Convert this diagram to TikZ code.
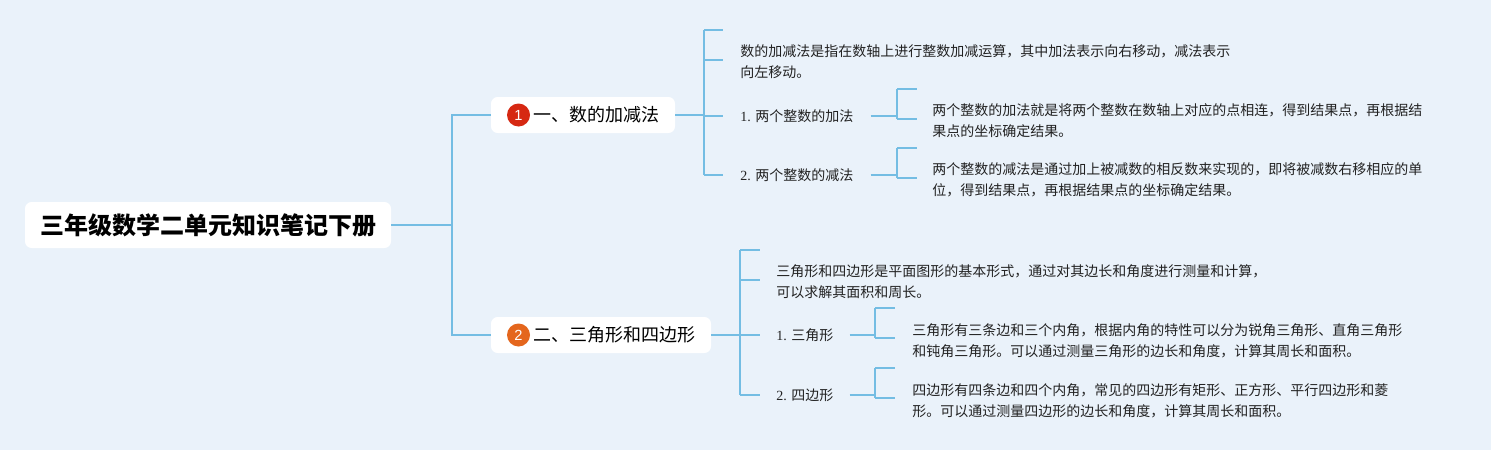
\documentclass[tikz,border=0pt]{standalone}
\usepackage{fontspec}
\setmainfont{Noto Sans CJK SC}
\newfontfamily\numfont{Liberation Serif}
\newfontfamily\circfont{Liberation Sans}
\definecolor{bg}{HTML}{EAF2FA}
\definecolor{ln}{HTML}{74BDE3}
\definecolor{redone}{HTML}{D62812}
\definecolor{orgtwo}{HTML}{E4661D}
\definecolor{txt}{HTML}{222222}
\begin{document}
\begin{tikzpicture}[x=0.75pt,y=-0.75pt,
  conn/.style={draw=ln, line width=1.5pt},
  whitebox/.style={fill=white, rounded corners=5pt, inner sep=0},
  small/.style={font=\fontsize{10.5pt}{15.75pt}\selectfont, text=txt, inner sep=0, anchor=west, align=left},
  child/.style={small, inner xsep=12.75pt},
  childb/.style={small, inner xsep=12pt},
  numc/.style={circle, fill=#1, text=white, minimum size=17.25pt, inner sep=0, font=\circfont\fontsize{11pt}{11pt}\selectfont},
  btext/.style={anchor=west, inner sep=0, text=black, font=\fontsize{13.5pt}{13.5pt}\selectfont}]
\fill[bg] (0,0) rectangle (1491,450);
\useasboundingbox (0,0) rectangle (1491,450);

% root
\node[whitebox, minimum width=274.5pt, minimum height=34.5pt, text=black,
      font=\bfseries\fontsize{18pt}{18pt}\selectfont] (root) at (208,225) {三年级数学二单元知识笔记下册};

% branch boxes
\node[whitebox, minimum width=138pt, minimum height=27pt] (b1) at (583,115) {};
\node[numc=redone] (n1) at (518.5,115) {1};
\node[btext] (t1) at (533,115) {一、数的加减法};
\node[whitebox, minimum width=165pt, minimum height=27pt] (b2) at (601,335) {};
\node[numc=orgtwo] (n2) at (518.5,335) {2};
\node[btext] (t2) at (533,335) {二、三角形和四边形};

% root connectors
\coordinate (jx) at (452,225);
\draw[conn] (root.east) -- (jx);
\draw[conn] (b1.west) -| (jx) |- (b2.west);

% ---------- branch 1 ----------
\coordinate (v1) at (704,115);
\coordinate (v1t) at (704,30);
\coordinate (v1b) at (704,175);
\coordinate (s1a) at (723,30);
\coordinate (s1b) at (723,60);
\node[small] (d1) at (740,62) {数的加减法是指在数轴上进行整数加减运算，其中加法表示向右移动，减法表示\\向左移动。};
\node[child] (c11) at (723,116) {{\numfont 1. }两个整数的加法};
\node[child] (c12) at (723,175) {{\numfont 2. }两个整数的减法};
\draw[conn] (b1.east) -- (v1);
\draw[conn] (v1t) -- (v1b);
\draw[conn] (v1t) -- (s1a);
\draw[conn] (s1b -| v1) -- (s1b);
\draw[conn] (c11.west -| v1) -- (c11.west);
\draw[conn] (c12.west -| v1) -- (c12.west);

% leaf 1.1
\coordinate (k11t) at (897,89);
\coordinate (k11b) at (897,119);
\coordinate (e11t) at (917,89);
\coordinate (e11b) at (917,119);
\node[small] (l11) at (932,121) {两个整数的加法就是将两个整数在数轴上对应的点相连，得到结果点，再根据结\\果点的坐标确定结果。};
\draw[conn] (c11.east) -- (c11.east -| k11t);
\draw[conn] (k11t) -- (k11b);
\draw[conn] (k11t) -- (e11t);
\draw[conn] (k11b) -- (e11b);

% leaf 1.2
\coordinate (k12t) at (897,148);
\coordinate (k12b) at (897,178);
\coordinate (e12t) at (917,148);
\coordinate (e12b) at (917,178);
\node[small] (l12) at (932,180) {两个整数的减法是通过加上被减数的相反数来实现的，即将被减数右移相应的单\\位，得到结果点，再根据结果点的坐标确定结果。};
\draw[conn] (c12.east) -- (c12.east -| k12t);
\draw[conn] (k12t) -- (k12b);
\draw[conn] (k12t) -- (e12t);
\draw[conn] (k12b) -- (e12b);

% ---------- branch 2 ----------
\coordinate (v2) at (740,335);
\coordinate (v2t) at (740,250);
\coordinate (v2b) at (740,395);
\coordinate (s2a) at (760,250);
\coordinate (s2b) at (760,280);
\node[small] (d2) at (776,282) {三角形和四边形是平面图形的基本形式，通过对其边长和角度进行测量和计算，\\可以求解其面积和周长。};
\node[childb] (c21) at (760,335) {{\numfont 1. }三角形};
\node[childb] (c22) at (760,395) {{\numfont 2. }四边形};
\draw[conn] (b2.east) -- (v2);
\draw[conn] (v2t) -- (v2b);
\draw[conn] (v2t) -- (s2a);
\draw[conn] (s2b -| v2) -- (s2b);
\draw[conn] (c21.west -| v2) -- (c21.west);
\draw[conn] (c22.west -| v2) -- (c22.west);

% leaf 2.1
\coordinate (k21t) at (875,308);
\coordinate (k21b) at (875,338);
\coordinate (e21t) at (895,308);
\coordinate (e21b) at (895,338);
\node[small] (l21) at (912,341) {三角形有三条边和三个内角，根据内角的特性可以分为锐角三角形、直角三角形\\和钝角三角形。可以通过测量三角形的边长和角度，计算其周长和面积。};
\draw[conn] (c21.east) -- (c21.east -| k21t);
\draw[conn] (k21t) -- (k21b);
\draw[conn] (k21t) -- (e21t);
\draw[conn] (k21b) -- (e21b);

% leaf 2.2
\coordinate (k22t) at (875,368);
\coordinate (k22b) at (875,398);
\coordinate (e22t) at (895,368);
\coordinate (e22b) at (895,398);
\node[small] (l22) at (912,401) {四边形有四条边和四个内角，常见的四边形有矩形、正方形、平行四边形和菱\\形。可以通过测量四边形的边长和角度，计算其周长和面积。};
\draw[conn] (c22.east) -- (c22.east -| k22t);
\draw[conn] (k22t) -- (k22b);
\draw[conn] (k22t) -- (e22t);
\draw[conn] (k22b) -- (e22b);
\end{tikzpicture}
\end{document}
